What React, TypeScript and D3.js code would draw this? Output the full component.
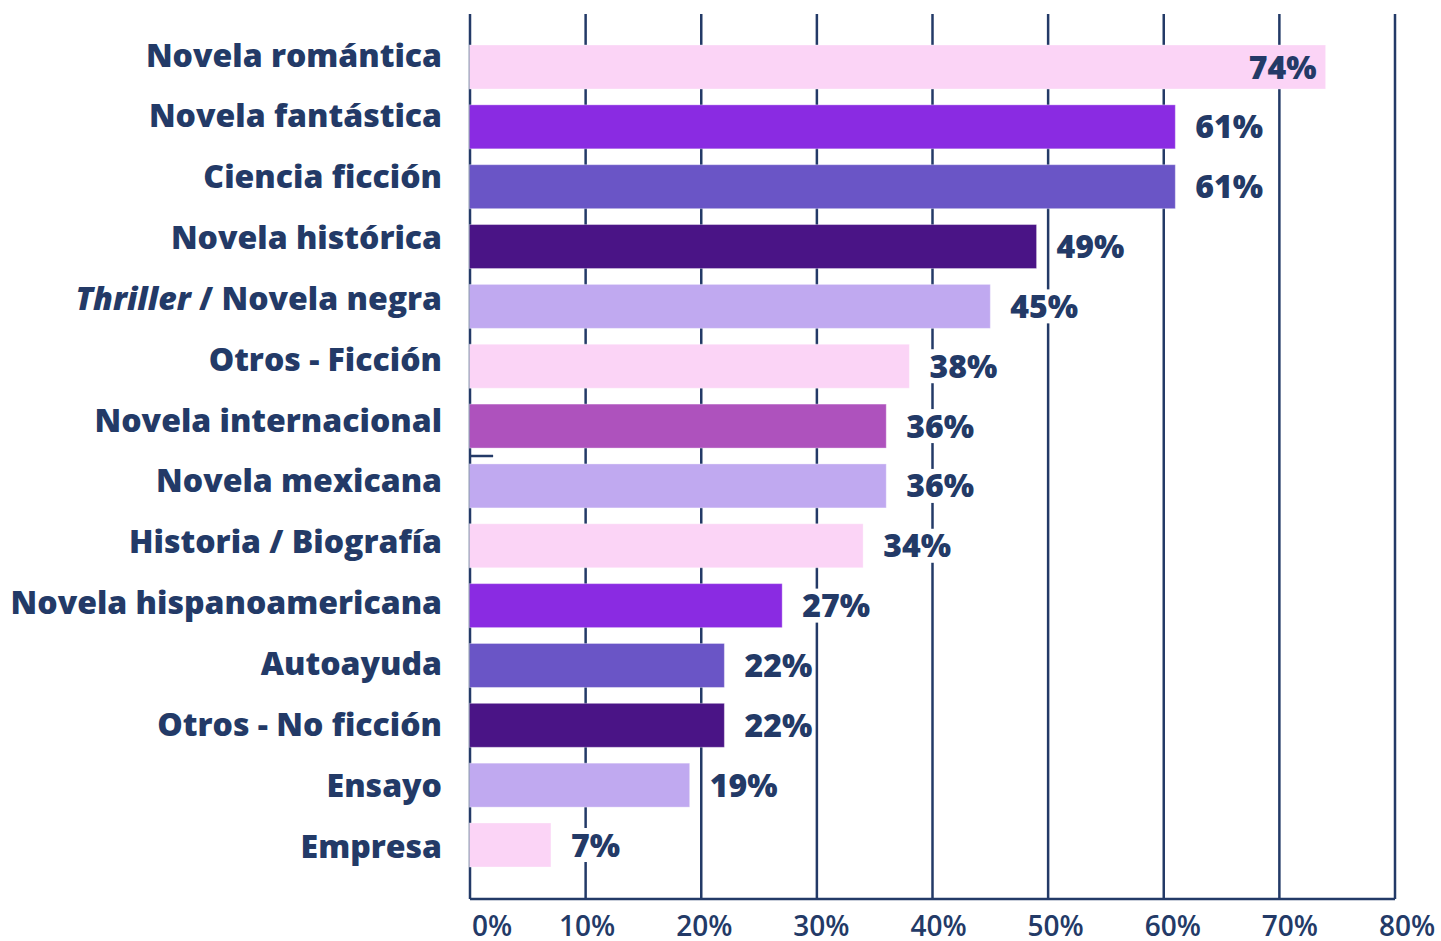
import React from "react";
import * as d3 from "d3";

const categories = [
  "Novela romántica",
  "Novela fantástica",
  "Ciencia ficción",
  "Novela histórica",
  "Thriller / Novela negra",
  "Otros - Ficción",
  "Novela internacional",
  "Novela mexicana",
  "Historia / Biografía",
  "Novela hispanoamericana",
  "Autoayuda",
  "Otros - No ficción",
  "Ensayo",
  "Empresa",
];
const values = [74, 61, 61, 49, 45, 38, 36, 36, 34, 27, 22, 22, 19, 7];
const barColors = [
  "#fbd4f6",
  "#8a2be2",
  "#6a55c6",
  "#4a1486",
  "#c0a9f0",
  "#fbd4f6",
  "#ae52bd",
  "#c0a9f0",
  "#fbd4f6",
  "#8a2be2",
  "#6a55c6",
  "#4a1486",
  "#c0a9f0",
  "#fbd4f6",
];
const ticks = [0, 10, 20, 30, 40, 50, 60, 70, 80];

const navy = "#233a67";
const font = "'Open Sans', sans-serif";

export default function App() {
  const width = 1441;
  const height = 941;

  const x = d3.scaleLinear().domain([0, 80]).range([470, 1395]);
  const y = d3
    .scaleBand<string>()
    .domain(categories)
    .range([45, 867])
    .paddingInner(0.265)
    .paddingOuter(0);
  // category labels sit on a slightly wider spread than the bars
  const yLabel = d3.scalePoint<string>().domain(categories).range([55, 846]);

  return (
    <svg
      width={width}
      height={height}
      style={{ position: "absolute", left: 0, top: 0, background: "white" }}
    >
      {/* grid lines */}
      {ticks.map((t) => (
        <line
          key={"g" + t}
          x1={x(t)}
          x2={x(t)}
          y1={14}
          y2={899}
          stroke={navy}
          strokeWidth={2.5}
        />
      ))}
      <line x1={x(0)} x2={x(80)} y1={899} y2={899} stroke={navy} strokeWidth={2.5} />
      <line x1={x(0)} x2={x(2)} y1={456} y2={456} stroke={navy} strokeWidth={2.5} />

      {/* bars */}
      {categories.map((c, i) => (
        <rect
          key={c}
          x={x(0) - 0.5}
          y={y(c)}
          width={x(values[i]) - x(0) + 0.5}
          height={y.bandwidth()}
          fill={barColors[i]}
          stroke="white"
          strokeOpacity={0.35}
          strokeWidth={1}
        />
      ))}

      {/* value labels */}
      {categories.map((c, i) => {
        const inside = values[i] > 70;
        const cy = (y(c) as number) + y.bandwidth() / 2;
        const lx = inside ? x(values[i]) - 9 : x(values[i]) + 20;
        const w = String(values[i]).length * 19 + 26;
        return (
          <g key={"v" + c}>
            {!inside && (
              <rect x={lx - 2} y={cy - 17} width={w + 4} height={34} fill="white" />
            )}
            <text
              x={lx}
              y={cy}
              dy="0.36em"
              textAnchor={inside ? "end" : "start"}
              fontFamily={font}
              fontWeight={800}
              fontSize={32}
              fill={navy}
            >
              {values[i]}%
            </text>
          </g>
        );
      })}

      {/* category labels */}
      {categories.map((c) => {
        const thr = c.startsWith("Thriller");
        return (
          <text
            key={"c" + c}
            x={442}
            y={yLabel(c)}
            dy="0.36em"
            textAnchor="end"
            fontFamily={font}
            fontWeight={800}
            fontSize={32}
            fill={navy}
          >
            {thr ? (
              <>
                <tspan fontStyle="italic">Thriller</tspan>
                {" / Novela negra"}
              </>
            ) : (
              c
            )}
          </text>
        );
      })}

      {/* x tick labels */}
      {ticks.map((t) => (
        <text
          key={"t" + t}
          x={t === 0 ? 472 : x(t) + t * 0.15}
          y={926}
          dy="0.36em"
          textAnchor={t === 0 ? "start" : "middle"}
          fontFamily={font}
          fontWeight={600}
          fontSize={28}
          fill={navy}
        >
          {t}%
        </text>
      ))}
    </svg>
  );
}
